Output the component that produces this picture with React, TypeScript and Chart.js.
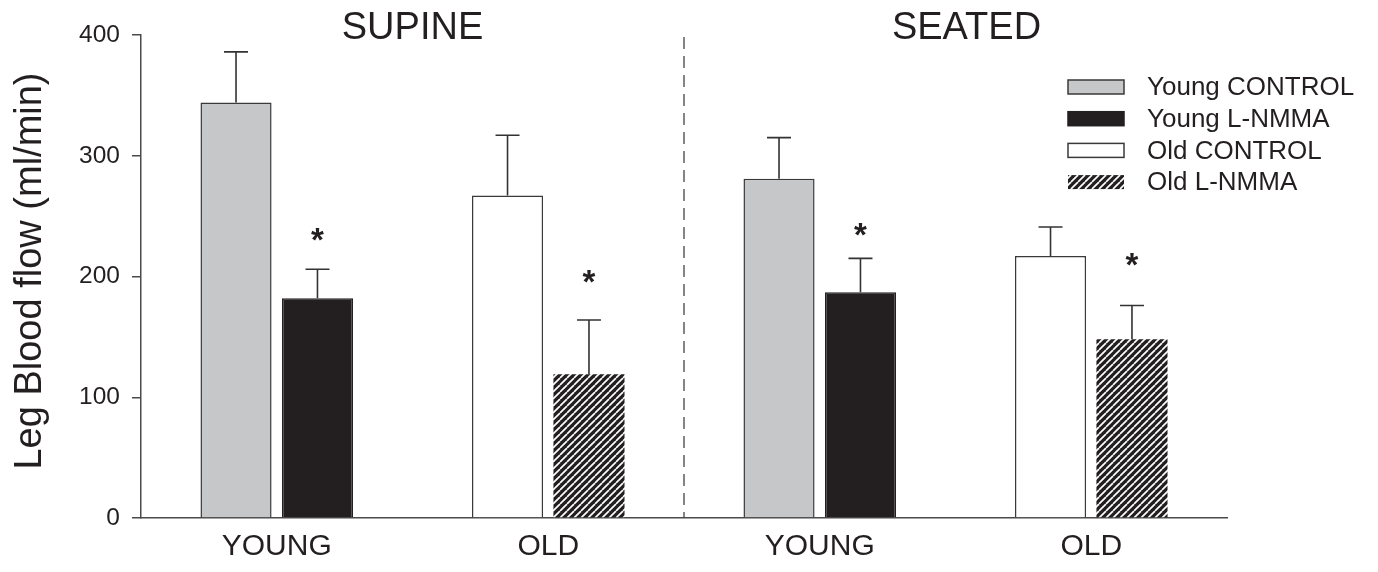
import React, { useEffect, useRef } from "react";
import { Chart, registerables } from "chart.js";

Chart.register(...registerables);

// ---------- data ----------
const categories = ["YOUNG", "OLD", "YOUNG", "OLD"];
const groupTitles = ["SUPINE", "SEATED"];
const yTicks = [0, 100, 200, 300, 400];
const yTitle = "Leg Blood flow (ml/min)";

const youngControl = [344, null, 281, null];
const youngControlSE = [42, null, 34, null];
const youngLNMMA = [182, null, 187, null];
const youngLNMMASE = [24, null, 28, null];
const oldControl = [null, 267, null, 217];
const oldControlSE = [null, 50, null, 24];
const oldLNMMA = [null, 119, null, 148];
const oldLNMMASE = [null, 45, null, 28];

// significance markers (value level of the "*")
const youngLNMMAStar = [237, null, 241, null];
const oldLNMMAStar = [null, 202, null, 216];

const FONT = '"Liberation Sans", Arial, Helvetica, sans-serif';
const INK = "#231f20";
const EDGE = "#3a3a3a";
const AXIS = "#4a4a4a";

export default function App() {
  const ref = useRef<HTMLCanvasElement>(null);

  useEffect(() => {
    const canvas = ref.current!;
    const ctx = canvas.getContext("2d")!;

    // hatch pattern for Old L-NMMA
    const pc = document.createElement("canvas");
    const P = 7;
    pc.width = P;
    pc.height = P;
    const c = pc.getContext("2d")!;
    c.fillStyle = INK;
    c.fillRect(0, 0, P, P);
    c.strokeStyle = "#ffffff";
    c.lineWidth = 1.7;
    for (const o of [-P, 0, P]) {
      c.beginPath();
      c.moveTo(o, P);
      c.lineTo(o + P, 0);
      c.stroke();
    }
    const hatch = ctx.createPattern(pc, "repeat")!;

    const datasets: any[] = [
      {
        label: "Young CONTROL",
        data: youngControl,
        errors: youngControlSE,
        stars: [null, null, null, null],
        backgroundColor: "#c6c7c9",
        borderColor: EDGE,
        borderWidth: 1.5,
      },
      {
        label: "Young L-NMMA",
        data: youngLNMMA,
        errors: youngLNMMASE,
        stars: youngLNMMAStar,
        backgroundColor: INK,
        borderColor: INK,
        borderWidth: 1.5,
      },
      {
        label: "Old CONTROL",
        data: oldControl,
        errors: oldControlSE,
        stars: [null, null, null, null],
        backgroundColor: "#ffffff",
        borderColor: EDGE,
        borderWidth: 1.5,
      },
      {
        label: "Old L-NMMA",
        data: oldLNMMA,
        errors: oldLNMMASE,
        stars: oldLNMMAStar,
        backgroundColor: hatch,
        borderColor: "rgba(0,0,0,0)",
        borderWidth: 0,
        legendNoBorder: true,
      },
    ];

    const divider = {
      id: "divider",
      beforeDatasetsDraw(chart: any) {
        const x = chart.scales.x;
        const { top, bottom } = chart.chartArea;
        const g = chart.ctx;
        g.save();
        const px = (x.getPixelForValue(1) + x.getPixelForValue(2)) / 2;
        g.strokeStyle = "#444444";
        g.lineWidth = 1.3;
        g.setLineDash([12, 7]);
        g.beginPath();
        g.moveTo(px, top + 2);
        g.lineTo(px, bottom);
        g.stroke();
        g.restore();
      },
    };

    const errorBars = {
      id: "errorBars",
      afterDatasetsDraw(chart: any) {
        const g = chart.ctx;
        const y = chart.scales.y;
        g.save();
        chart.data.datasets.forEach((ds: any, i: number) => {
          const meta = chart.getDatasetMeta(i);
          meta.data.forEach((el: any, j: number) => {
            const v = ds.data[j];
            const e = ds.errors ? ds.errors[j] : null;
            if (v == null || e == null) return;
            const yTop = y.getPixelForValue(v + e);
            g.strokeStyle = "#333333";
            g.lineWidth = 1.6;
            g.beginPath();
            g.moveTo(el.x, el.y);
            g.lineTo(el.x, yTop);
            g.moveTo(el.x - 12, yTop);
            g.lineTo(el.x + 12, yTop);
            g.stroke();
          });
          meta.data.forEach((el: any, j: number) => {
            const s = ds.stars ? ds.stars[j] : null;
            if (s == null) return;
            const py = y.getPixelForValue(s);
            g.fillStyle = INK;
            g.font = `bold 33px ${FONT}`;
            g.textAlign = "center";
            g.textBaseline = "alphabetic";
            g.fillText("*", el.x, py + 19);
          });
        });
        g.restore();
      },
    };

    const annotations = {
      id: "annotations",
      afterDraw(chart: any) {
        const g = chart.ctx;
        const x = chart.scales.x;
        g.save();
        // posture titles
        g.fillStyle = INK;
        g.font = `38px ${FONT}`;
        g.textAlign = "center";
        g.textBaseline = "alphabetic";
        groupTitles.forEach((t, i) => {
          const cx = (x.getPixelForValue(2 * i) + x.getPixelForValue(2 * i + 1)) / 2 + (i === 1 ? 11 : 0);
          g.fillText(t, cx, 38.5);
        });
        // y-axis title
        g.save();
        g.translate(31, 271);
        g.rotate(-Math.PI / 2);
        g.font = `38px ${FONT}`;
        g.textAlign = "center";
        g.textBaseline = "middle";
        g.fillText(yTitle, 0, 0);
        g.restore();
        // legend
        const bx = 1068;
        const bw = 56;
        const bh = 14;
        const y0 = 87;
        const step = 31.7;
        chart.data.datasets.forEach((ds: any, i: number) => {
          const cy = y0 + i * step;
          g.fillStyle = ds.backgroundColor;
          g.fillRect(bx, cy - bh / 2, bw, bh);
          if (!ds.legendNoBorder) {
            g.strokeStyle = ds.borderColor;
            g.lineWidth = 1.5;
            g.strokeRect(bx, cy - bh / 2, bw, bh);
          }
          g.fillStyle = INK;
          g.font = `26px ${FONT}`;
          g.textAlign = "left";
          g.textBaseline = "middle";
          g.fillText(ds.label, bx + 79, cy + 1);
        });
        g.restore();
      },
    };

    const chart = new Chart(ctx, {
      type: "bar",
      data: { labels: categories, datasets },
      options: {
        responsive: false,
        maintainAspectRatio: false,
        animation: false,
        devicePixelRatio: 1,
        datasets: {
          bar: {
            skipNull: true,
            categoryPercentage: 0.6,
            barPercentage: 0.873,
            borderSkipped: "bottom",
          },
        } as any,
        layout: { padding: { left: 0, top: 35, right: 151, bottom: 0 } },
        plugins: {
          legend: { display: false },
          tooltip: { enabled: false },
          title: { display: false },
        },
        scales: {
          x: {
            offset: true,
            grid: { display: true, drawOnChartArea: false, drawTicks: false },
            border: { display: true, color: AXIS, width: 1.5 },
            ticks: {
              color: INK,
              font: { family: FONT, size: 30 },
              padding: 11,
              maxRotation: 0,
              autoSkip: false,
            },
            afterFit: (s: any) => {
              s.height = 54;
            },
          },
          y: {
            min: 0,
            max: 400,
            afterBuildTicks: (s: any) => {
              s.ticks = yTicks.map((v) => ({ value: v }));
            },
            grid: {
              drawOnChartArea: false,
              drawTicks: true,
              tickLength: 9,
              color: AXIS,
              lineWidth: 1.5,
            },
            border: { display: true, color: AXIS, width: 1.5 },
            ticks: {
              color: INK,
              font: { family: FONT, size: 24.5 },
              padding: 12,
            },
            title: { display: false },
            afterFit: (s: any) => {
              s.width = 141;
            },
          },
        },
      } as any,
      plugins: [divider, errorBars, annotations],
    });

    return () => chart.destroy();
  }, []);

  return (
    <div style={{ position: "absolute", left: 0, top: 0, width: 1378, height: 572, background: "#ffffff" }}>
      <canvas ref={ref} width={1378} height={572} style={{ display: "block" }} />
    </div>
  );
}
